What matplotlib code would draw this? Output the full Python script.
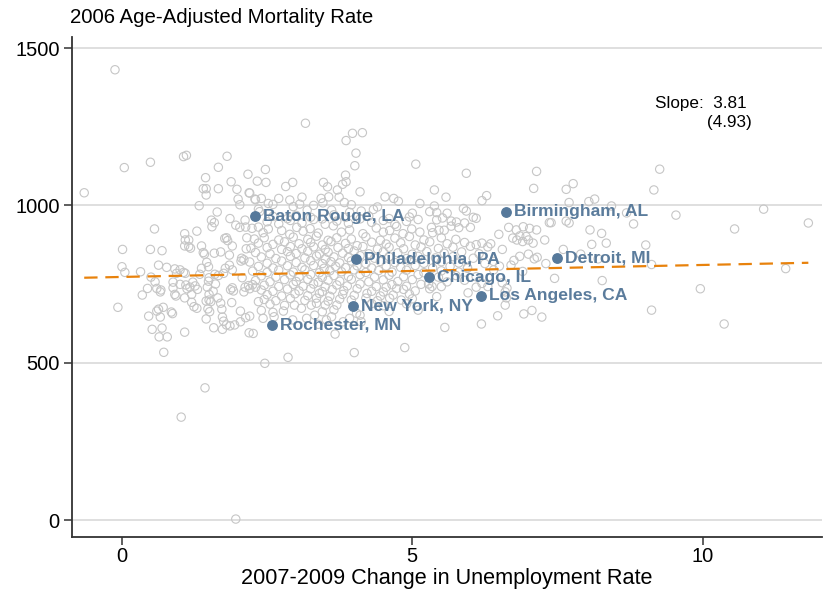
import matplotlib
matplotlib.use("Agg")
import matplotlib.pyplot as plt

plt.rcParams['font.family'] = ['Liberation Sans', 'DejaVu Sans']

# ---------------- data ----------------
# sparse / outlying counties (x = change in unemployment, y = mortality rate)
outer_points = [
    (-0.65, 1040), (-0.12, 1431), (0.04, 1120), (0.49, 1137), (1.06, 1155), (1.11, 1159),
    (1.81, 1156), (1.66, 1121), (2.17, 1099), (1.44, 1088), (1.88, 1075), (2.33, 1077),
    (2.47, 1114), (2.48, 1073), (1.40, 1053), (1.45, 1053), (1.66, 1053), (1.98, 1051),
    (2.19, 1040), (1.45, 1033), (2.00, 1020), (2.29, 1020), (1.33, 999), (2.03, 1002),
    (1.64, 979), (1.54, 953), (1.59, 945), (1.86, 958), (1.55, 932), (2.12, 953),
    (1.96, 937), (2.03, 930), (2.13, 931), (2.24, 927), (0.56, 925), (1.29, 918),
    (1.08, 910), (1.09, 890), (1.15, 890), (1.08, 871), (1.15, 869), (1.37, 871),
    (1.77, 895), (1.80, 897), (1.82, 888), (2.15, 897), (2.28, 893), (1.90, 871),
    (2.14, 862), (2.22, 864), (0.01, 860), (0.49, 860), (0.69, 856), (1.18, 864),
    (1.40, 850), (1.42, 845), (1.59, 848), (1.70, 852), (1.85, 842), (2.06, 832),
    (3.16, 1261), (3.97, 1229), (4.14, 1231), (3.86, 1206), (4.03, 1166), (4.01, 1126),
    (5.06, 1131), (3.85, 1096), (2.82, 1060), (2.94, 1073), (3.47, 1073), (3.54, 1059),
    (3.86, 1075), (3.80, 1067), (3.71, 1049), (4.10, 1043), (5.38, 1049), (2.20, 1039),
    (2.30, 1018), (2.40, 1022), (2.52, 1006), (2.70, 1022), (2.89, 1017), (3.10, 1026),
    (3.06, 1004), (3.43, 1022), (3.56, 1027), (3.46, 1008), (3.74, 1026), (3.83, 1009),
    (4.53, 1027), (4.68, 1022), (4.76, 1013), (5.13, 1006), (5.38, 998), (2.35, 988),
    (2.37, 980), (3.19, 985), (3.61, 985), (3.92, 978), (4.12, 982), (4.33, 987),
    (5.00, 975), (5.30, 980), (5.42, 977),
]

east_points = [
    (5.93, 1102), (7.14, 1108), (7.09, 1054), (7.77, 1069), (7.65, 1051), (5.58, 1026),
    (6.20, 1015), (6.28, 1031), (7.70, 1009), (8.04, 1012), (8.14, 1020), (8.43, 998),
    (5.88, 990), (5.93, 982), (5.52, 960), (5.42, 954), (5.60, 975), (5.67, 950),
    (5.76, 947), (5.90, 944), (6.00, 930), (6.10, 959), (6.05, 962), (5.55, 921),
    (5.67, 934), (5.80, 929), (5.46, 921), (5.35, 913), (6.66, 930), (6.79, 922),
    (6.91, 932), (7.02, 927), (7.14, 922), (6.49, 908), (6.73, 896), (6.85, 903),
    (6.96, 901), (6.80, 890), (6.90, 885), (7.00, 890), (7.08, 880), (7.28, 890),
    (7.36, 945), (7.39, 945), (7.65, 950), (7.70, 944), (8.06, 922), (8.26, 911),
    (8.34, 880), (8.09, 876), (6.00, 870), (6.10, 875), (6.20, 880), (6.30, 868),
    (6.35, 878), (9.26, 1115), (9.16, 1049), (8.69, 976), (8.81, 941), (9.54, 969),
    (10.55, 925), (11.05, 988), (11.82, 944), (9.02, 874), (9.12, 812), (8.27, 761),
    (9.96, 735), (9.12, 667), (10.37, 623), (11.43, 799), (5.56, 612), (6.19, 623),
    (6.47, 649), (6.92, 655), (7.06, 666), (7.23, 645), (6.60, 683), (7.45, 768),
    (5.42, 710), (5.96, 722), (6.60, 725), (6.62, 706), (6.55, 754), (6.63, 737),
    (7.10, 830), (7.15, 835), (6.75, 825), (6.85, 838), (7.00, 845), (5.30, 735),
    (5.28, 750), (5.34, 742), (6.10, 740), (6.20, 752), (6.30, 742), (7.60, 860),
    (7.90, 845), (8.20, 830), (6.55, 860), (6.70, 810), (6.40, 795), (6.90, 790),
    (7.30, 815), (5.95, 800), (6.25, 815),
]

west_points = [
    (0.00, 805), (0.05, 787), (0.32, 789), (0.63, 810), (0.50, 772), (0.57, 757),
    (0.77, 803), (0.91, 798), (0.94, 784), (0.44, 736), (0.35, 715), (0.60, 736),
    (0.67, 731), (0.66, 725), (-0.07, 676), (0.46, 648), (0.63, 670), (0.60, 664),
    (0.71, 676), (0.66, 645), (0.85, 661), (0.87, 656), (0.52, 606), (0.69, 610),
    (0.64, 582), (0.78, 582), (0.72, 533), (1.08, 597), (0.88, 756), (0.88, 738),
    (1.00, 749), (0.91, 717), (0.93, 712), (1.06, 787), (1.09, 784), (1.00, 795),
    (1.10, 747), (1.17, 740), (1.12, 735), (1.22, 756), (1.08, 706), (1.20, 692),
    (1.24, 678), (1.29, 673), (1.20, 717), (1.30, 733), (1.26, 744), (1.45, 639),
    (1.58, 611), (1.48, 671), (1.51, 662), (1.45, 696), (1.50, 699), (1.53, 694),
    (1.50, 717), (1.57, 727), (1.47, 740), (1.49, 759), (1.50, 770), (1.34, 781),
    (1.37, 800), (1.46, 819), (1.49, 805), (1.61, 750), (1.60, 781), (1.65, 706),
    (1.70, 689), (1.72, 670), (1.73, 645), (1.75, 632), (1.80, 620), (1.73, 606),
    (1.86, 617), (1.94, 620), (2.04, 630), (2.13, 643), (2.04, 664), (1.89, 691),
    (1.87, 732), (1.90, 738), (1.92, 728), (1.66, 777), (1.75, 784), (1.78, 800),
    (1.85, 810), (1.90, 795), (2.05, 823), (2.10, 827), (2.07, 770), (2.19, 595),
    (2.12, 740), (2.18, 745), (2.25, 748), (2.30, 740), (2.10, 725), (2.20, 735),
    (2.35, 694), (1.02, 327), (1.43, 420), (1.96, 3), (2.46, 498), (2.86, 517),
    (4.00, 532), (4.87, 548), (2.43, 641), (2.60, 660), (2.62, 646), (2.78, 664),
    (2.94, 636), (3.18, 641), (3.32, 651), (3.38, 622), (3.52, 636), (3.61, 646),
    (3.67, 591), (3.70, 683), (3.81, 630), (3.92, 641), (4.04, 657), (4.10, 651),
    (4.12, 630), (2.97, 683), (3.09, 673), (3.26, 683), (2.26, 593), (2.20, 648),
    (4.61, 705), (4.73, 736), (4.81, 699), (4.50, 725), (4.55, 740), (4.67, 715),
]

core_points = [
    (2.35, 931), (2.43, 913), (2.52, 925), (2.75, 920), (2.89, 908), (3.01, 930),
    (3.12, 918), (3.24, 926), (3.38, 912), (3.64, 935), (3.78, 915), (3.92, 922),
    (4.15, 910), (4.38, 928), (4.50, 915), (4.61, 920), (4.73, 933), (4.84, 910),
    (4.99, 925), (5.13, 915), (5.33, 930),
    (2.50, 948), (2.70, 941), (2.90, 952), (3.10, 944), (3.30, 955), (3.50, 940),
    (3.70, 950), (3.90, 943), (4.10, 957), (4.30, 946), (4.50, 952), (4.70, 940),
    (4.90, 949), (5.10, 955), (2.60, 965), (2.85, 958), (3.00, 968), (3.25, 962),
    (3.45, 957), (3.65, 970), (3.85, 962), (4.25, 966), (4.60, 958), (4.95, 963),
    (2.60, 1003), (2.95, 996), (3.30, 1000), (3.95, 1002), (4.40, 995),
    (2.45, 897), (2.70, 890), (2.95, 899), (3.20, 892), (3.35, 902), (3.55, 889),
    (3.70, 897), (3.95, 893), (4.20, 900), (4.45, 889), (4.70, 896), (4.95, 901),
    (5.20, 890), (5.50, 897), (5.75, 892),
    (2.35, 880), (2.60, 876), (2.80, 884), (3.05, 878), (3.25, 882), (3.45, 874),
    (3.60, 885), (3.85, 879), (4.05, 872), (4.30, 883), (4.55, 877), (4.80, 881),
    (5.05, 874), (5.30, 884), (5.60, 878), (5.90, 882),
    (2.50, 866), (2.75, 860), (2.90, 869), (3.10, 862), (3.30, 868), (3.50, 860),
    (3.72, 866), (3.90, 863), (4.15, 869), (4.40, 861), (4.60, 867), (4.85, 862),
    (5.15, 868), (5.45, 863), (5.70, 867),
    (2.30, 850), (2.55, 846), (2.85, 853), (3.00, 847), (3.20, 854), (3.40, 845),
    (3.55, 851), (3.80, 848), (4.00, 855), (4.25, 846), (4.50, 852), (4.75, 849),
    (5.00, 845), (5.25, 853), (5.55, 848), (5.85, 852), (6.15, 846),
    (2.40, 836), (2.65, 831), (2.90, 838), (3.15, 833), (3.35, 839), (3.50, 830),
    (3.65, 836), (3.90, 834), (4.10, 840), (4.35, 832), (4.60, 837), (4.90, 831),
    (5.10, 838), (5.40, 833), (5.70, 837), (6.05, 832),
    (2.20, 820), (2.50, 816), (2.75, 823), (3.00, 818), (3.25, 824), (3.45, 815),
    (3.60, 821), (3.75, 817), (3.95, 823), (4.20, 815), (4.45, 822), (4.70, 818),
    (4.95, 824), (5.20, 816), (5.50, 821), (5.80, 817), (6.40, 822),
    (2.35, 806), (2.60, 801), (2.85, 808), (3.10, 803), (3.30, 809), (3.48, 800),
    (3.68, 806), (3.85, 802), (4.05, 808), (4.30, 801), (4.55, 807), (4.80, 803),
    (5.05, 809), (5.35, 801), (5.65, 806), (5.95, 802), (6.50, 807),
    (2.25, 791), (2.50, 787), (2.70, 794), (2.95, 788), (3.15, 795), (3.40, 786),
    (3.58, 792), (3.78, 789), (4.00, 795), (4.20, 787), (4.42, 793), (4.65, 788),
    (4.90, 794), (5.20, 786), (5.50, 792), (5.80, 788),
    (2.40, 776), (2.65, 772), (2.90, 779), (3.05, 773), (3.25, 780), (3.45, 771),
    (3.65, 777), (3.90, 774), (4.10, 780), (4.35, 772), (4.60, 778), (4.85, 773),
    (5.10, 780), (5.45, 772), (5.75, 777), (6.10, 773),
    (2.30, 761), (2.55, 757), (2.80, 764), (3.00, 758), (3.20, 765), (3.38, 756),
    (3.55, 762), (3.75, 759), (3.95, 765), (4.25, 757), (4.50, 763), (4.75, 758),
    (5.00, 764), (5.60, 757), (5.90, 762),
    (2.45, 746), (2.70, 742), (2.95, 749), (3.12, 743), (3.30, 750), (3.50, 741),
    (3.70, 747), (3.88, 744), (4.10, 750), (4.38, 742), (4.65, 748), (4.90, 743),
    (5.15, 749), (5.50, 742),
    (2.40, 731), (2.60, 727), (2.85, 734), (3.05, 728), (3.25, 735), (3.45, 726),
    (3.62, 732), (3.82, 729), (4.05, 735), (4.30, 727), (4.85, 733), (5.05, 728),
    (2.50, 716), (2.75, 712), (2.98, 719), (3.20, 713), (3.40, 720), (3.58, 711),
    (3.80, 717), (4.00, 714), (4.22, 720), (4.45, 712), (4.95, 718),
    (2.45, 701), (2.65, 697), (2.90, 704), (3.15, 698), (3.35, 705), (3.55, 696),
    (3.75, 702), (3.95, 699), (4.20, 705), (4.40, 697), (5.00, 703),
    (2.55, 686), (2.80, 682), (3.35, 689), (3.50, 683), (4.30, 688), (4.50, 681),
    (4.90, 687), (2.40, 666), (3.45, 662), (3.65, 668), (4.60, 663), (5.10, 667),
]

cities = ["Baton Rouge, LA", "Birmingham, AL", "Philadelphia, PA", "Detroit, MI",
          "Chicago, IL", "Los Angeles, CA", "New York, NY", "Rochester, MN"]
city_x = [2.29, 6.61, 4.03, 7.49, 5.28, 6.18, 3.98, 2.58]
city_y = [966, 979, 829, 833, 772, 712, 680, 620]

slope = 3.81
slope_se = 4.93
intercept = 772.5

y_ticks = [0, 500, 1000, 1500]
x_ticks = [0, 5, 10]

# ---------------- plot ----------------
fig = plt.figure(figsize=(8.25, 5.97), dpi=100)
ax = fig.add_axes([0.0873, 0.1005, 0.9087, 0.838])

all_pts = outer_points + east_points + west_points + core_points
px = [p[0] for p in all_pts]
py = [p[1] for p in all_pts]

for yt in y_ticks:
    ax.axhline(yt, color='#dcdcdc', lw=1.3, zorder=0)

ax.scatter(px, py, s=36, facecolors='none', edgecolors='#c6c6c6', linewidths=0.8, zorder=2)

xmin, xmax = min(px), max(px)
ax.plot([xmin, xmax], [intercept + slope * xmin, intercept + slope * xmax],
        color='#e8820c', lw=1.6, dashes=(6, 3.5), zorder=3)

ax.scatter(city_x, city_y, s=46, color='#56799b', zorder=4)
for name, cx, cy in zip(cities, city_x, city_y):
    ax.annotate(name, (cx, cy), xytext=(6, 0), textcoords='offset points',
                va='center', ha='left', fontsize=12.6, fontweight='bold',
                color='#5b7c9c', zorder=5)

ax.text(10.76, 1325, "Slope:  %.2f" % slope, ha='right', va='center', fontsize=12.3)
ax.text(10.84, 1262, "(%.2f)" % slope_se, ha='right', va='center', fontsize=12.3)

ax.set_xlim(-0.86, 12.05)
ax.set_ylim(-54, 1536)
ax.set_xticks(x_ticks)
ax.set_yticks(y_ticks)
ax.tick_params(axis='both', labelsize=14.5, length=6, width=1.1, color='#333333')
ax.tick_params(axis='x', pad=1.5)
ax.tick_params(axis='y', pad=3)
for s in ['top', 'right']:
    ax.spines[s].set_visible(False)
for s in ['left', 'bottom']:
    ax.spines[s].set_linewidth(1.3)
    ax.spines[s].set_color('#333333')

ax.set_xlabel("2007-2009 Change in Unemployment Rate", fontsize=15.6, labelpad=1)
fig.text(0.085, 0.971, "2006 Age-Adjusted Mortality Rate", fontsize=14.7, ha='left', va='center')

fig.savefig("out.png", dpi=100)
